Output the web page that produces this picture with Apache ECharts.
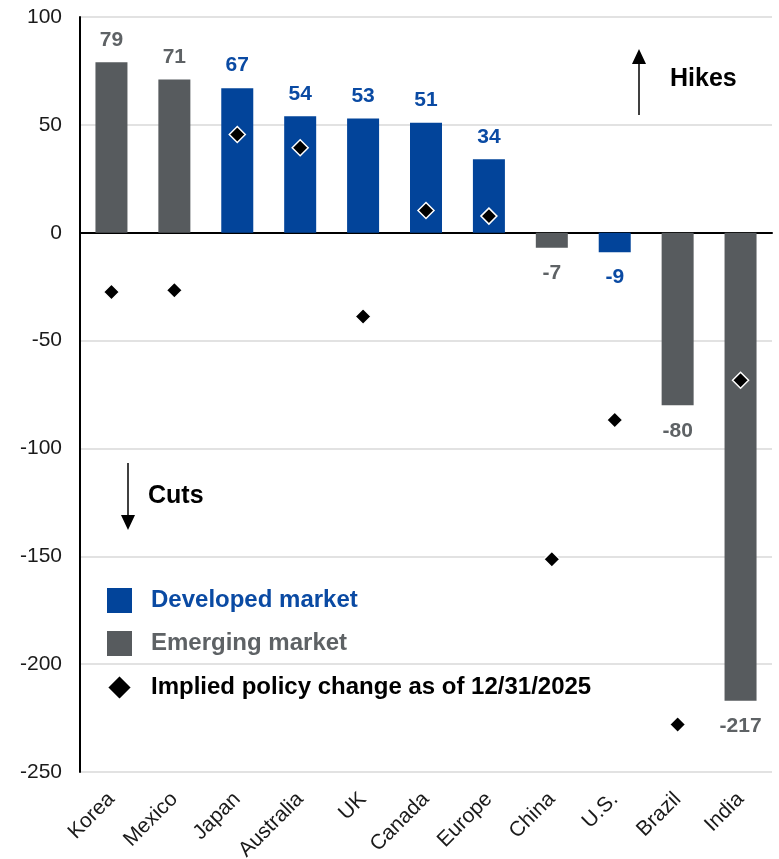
<!DOCTYPE html>
<html>
<head>
<meta charset="utf-8">
<script src="https://cdn.jsdelivr.net/npm/echarts@6/dist/echarts.min.js"></script>
<style>
  html, body { margin: 0; padding: 0; background: #ffffff; }
  #chart { width: 779px; height: 859px; }
</style>
</head>
<body>
<div id="chart"></div>
<script>
// ---- Data ----
const categories = ['Korea', 'Mexico', 'Japan', 'Australia', 'UK', 'Canada', 'Europe', 'China', 'U.S.', 'Brazil', 'India'];
const developed = [null, null, 67, 54, 53, 51, 34, null, -9, null, null];
const emerging  = [79, 71, null, null, null, null, null, -7, null, -80, -217];
const implied   = [-27.5, -26.7, 45.5, 39.4, -38.8, 10.3, 7.7, -151.4, -86.8, -228, -68.4];
const yTicks = { min: -250, max: 100, interval: 50 };

const BLUE = '#02449A';
const BLUE_TXT = '#0A4AA3';
const GREY = '#575B5E';
const GREY_TXT = '#5E6265';
const FONT = '"Liberation Sans", Arial, sans-serif';

function barData(arr) {
  return arr.map(v => v === null ? '-' : {
    value: v,
    label: { position: v >= 0 ? 'top' : 'bottom', distance: v >= 0 ? 12 : 15 }
  });
}

const chart = echarts.init(document.getElementById('chart'), null, { renderer: 'canvas' });

const option = {
  backgroundColor: '#ffffff',
  animation: false,
  textStyle: { fontFamily: FONT },
  grid: { left: 80, right: 7, top: 17, bottom: 87, containLabel: false, outerBoundsMode: 'none' },
  xAxis: [{
    type: 'category',
    data: categories,
    position: 'bottom',
    axisLine: { show: false, onZero: false },
    axisTick: { show: false },
    axisLabel: { rotate: 45, fontSize: 21, color: '#1a1a1a', margin: 24, fontFamily: FONT, interval: 0 }
  }, {
    type: 'category',
    data: categories,
    position: 'bottom',
    axisLine: { show: true, onZero: true, lineStyle: { color: '#000', width: 2 } },
    axisTick: { show: false },
    axisLabel: { show: false }
  }],
  yAxis: {
    type: 'value',
    min: yTicks.min, max: yTicks.max, interval: yTicks.interval,
    axisLine: { show: true, lineStyle: { color: '#000', width: 2 } },
    axisTick: { show: false },
    axisLabel: { fontSize: 21, color: '#1a1a1a', margin: 18, fontFamily: FONT },
    splitLine: { show: true, lineStyle: { color: '#d9d9d9', width: 1.5 } }
  },
  legend: {
    orient: 'vertical',
    left: 101, top: 583,
    itemWidth: 25, itemHeight: 25, itemGap: 18,
    textStyle: { fontSize: 24, fontWeight: 'bold', fontFamily: FONT, padding: [0, 0, 0, 14] },
    data: [
      { name: 'Developed market', icon: 'rect', textStyle: { color: BLUE_TXT } },
      { name: 'Emerging market', icon: 'rect', textStyle: { color: GREY_TXT } },
      { name: 'Implied policy change as of 12/31/2025', icon: 'diamond', textStyle: { color: '#000' } }
    ],
    selectedMode: false
  },
  series: [{
    name: 'Developed market',
    type: 'bar',
    data: barData(developed),
    barWidth: 32,
    barGap: '-100%',
    itemStyle: { color: BLUE },
    label: { show: true, fontSize: 21, fontWeight: 'bold', color: BLUE_TXT, fontFamily: FONT }
  }, {
    name: 'Emerging market',
    type: 'bar',
    data: barData(emerging),
    barWidth: 32,
    barGap: '-100%',
    itemStyle: { color: GREY },
    label: { show: true, fontSize: 21, fontWeight: 'bold', color: GREY_TXT, fontFamily: FONT }
  }, {
    name: 'Implied policy change as of 12/31/2025',
    type: 'scatter',
    data: implied,
    symbol: 'diamond',
    symbolSize: 16,
    z: 5,
    itemStyle: { color: '#000', borderColor: '#fff', borderWidth: 1.5, opacity: 1 }
  }],
  graphic: [
    // Hikes arrow
    { type: 'line', shape: { x1: 639, y1: 115, x2: 639, y2: 62 }, style: { stroke: '#000', lineWidth: 1.5 } },
    { type: 'polygon', shape: { points: [[639, 49], [632, 64], [646, 64]] }, style: { fill: '#000' } },
    { type: 'text', left: 670, top: 67, style: { text: 'Hikes', font: 'bold 25px ' + FONT, fill: '#000' } },
    // Cuts arrow
    { type: 'line', shape: { x1: 128, y1: 463, x2: 128, y2: 516 }, style: { stroke: '#000', lineWidth: 1.5 } },
    { type: 'polygon', shape: { points: [[128, 530], [121, 515], [135, 515]] }, style: { fill: '#000' } },
    { type: 'text', left: 148, top: 484, style: { text: 'Cuts', font: 'bold 25px ' + FONT, fill: '#000' } }
  ]
};

chart.setOption(option);
</script>
</body>
</html>
